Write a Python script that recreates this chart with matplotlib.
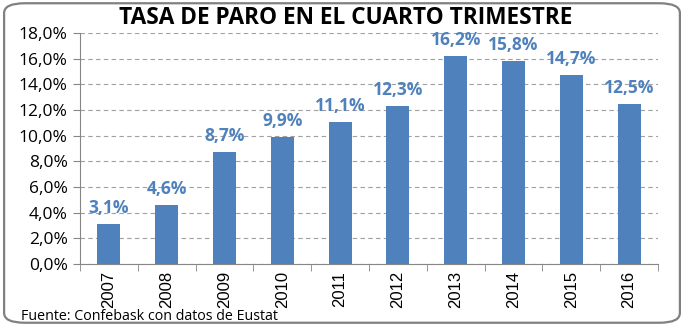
import numpy as np
import matplotlib.pyplot as plt
from matplotlib.patches import FancyBboxPatch
from matplotlib.ticker import FuncFormatter

years = ['2007', '2008', '2009', '2010', '2011', '2012', '2013', '2014', '2015', '2016']
paro = [3.1, 4.6, 8.7, 9.9, 11.1, 12.3, 16.2, 15.8, 14.7, 12.5]

plt.rcParams['font.family'] = ['Open Sans', 'DejaVu Sans']

fig = plt.figure(figsize=(6.84, 3.26), dpi=100)
# marco redondeado
fig.patches.append(FancyBboxPatch((0.006, 0.01), 0.988, 0.98, boxstyle='round,pad=0,rounding_size=0.03',
                                  transform=fig.transFigure, fc='none', ec='#808080', lw=1.6, zorder=-1))

ax = fig.add_axes([0.117, 0.19, 0.845, 0.709])
x = np.arange(len(years))
ax.bar(x, paro, width=0.4, color='#4F81BD', zorder=3)

for xi, v in zip(x, paro):
    ax.annotate(f"{v:.1f}%".replace('.', ','), (xi, v), xytext=(0, 5), textcoords='offset points',
                ha='center', va='bottom', color='#4F81BD', fontsize=12.5, fontweight='bold')

ax.set_xlim(-0.5, len(years) - 0.5)
ax.set_ylim(0, 18)
ax.set_yticks(np.arange(0, 19, 2))
ax.yaxis.set_major_formatter(FuncFormatter(lambda v, p: f"{v:.1f}%".replace('.', ',')))
ax.set_xticks(x)
ax.set_xticklabels(years, rotation=90, fontsize=12, family='Liberation Sans')
ax.set_xticks(np.arange(-0.5, len(years)), minor=True)
ax.tick_params(axis='x', which='major', length=0, pad=5)
ax.tick_params(axis='x', which='minor', length=5, color='#868686')
ax.tick_params(axis='y', length=5, color='#868686', labelsize=12.5, pad=4)
ax.grid(axis='y', linestyle=(0, (4, 3)), color='#A0A0A0', lw=0.8, zorder=0)
for s in ['top', 'right']:
    ax.spines[s].set_visible(False)
ax.spines['left'].set_color('#868686')
ax.spines['bottom'].set_color('#868686')

fig.text(0.506, 0.945, 'TASA DE PARO EN EL CUARTO TRIMESTRE', ha='center', va='center',
         fontsize=16.3, fontweight='bold')
fig.text(0.03, 0.03, 'Fuente: Confebask con datos de Eustat', ha='left', va='center', fontsize=10.3)

fig.savefig('out.png', dpi=100)
